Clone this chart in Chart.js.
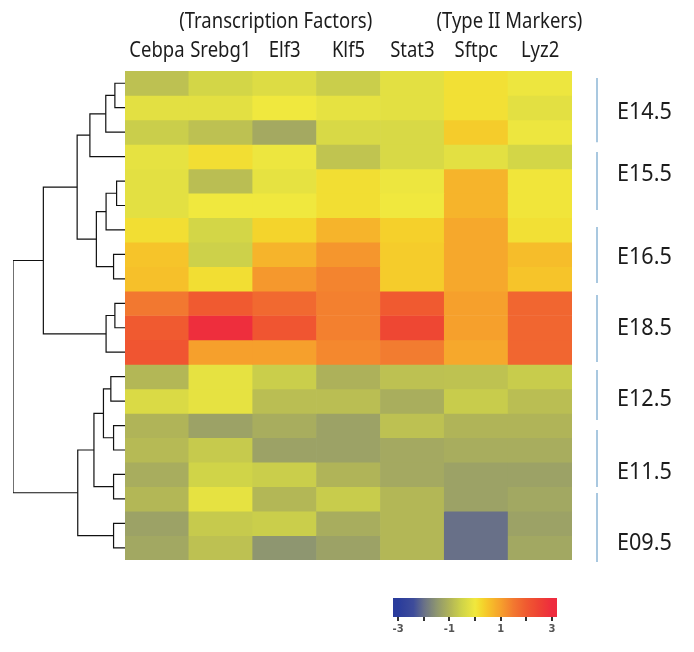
<!DOCTYPE html>
<html>
<head>
<meta charset="utf-8">
<title>Heatmap</title>
<script src="https://cdn.jsdelivr.net/npm/chart.js@4.4.1/dist/chart.umd.min.js"></script>
<style>
    html, body { margin: 0; padding: 0; background: #fff; }
    #wrap { position: relative; width: 694px; height: 652px; }
    #wrap canvas { position: absolute; left: 0; top: 0; }
</style>
</head>
<body>
<div id="wrap">
    <canvas id="treeChart" width="694" height="652"></canvas>
    <canvas id="heatChart" width="694" height="652"></canvas>
    <canvas id="keyChart" width="694" height="652"></canvas>
</div>
<script>
// columns
const genes = ["Cebpa", "Srebg1", "Elf3", "Klf5", "Stat3", "Sftpc", "Lyz2"];
const geneGroups = ["(Transcription Factors)", "(Type II Markers)"];
const geneGroupCentres = [1.86, 5.52]; // in column units

// z-scores per gene, rows top to bottom (20 samples, clustered order)
const cebpa  = [-0.8, -0.2, -0.6, -0.15, -0.2, -0.2, 0.15, 0.5, 0.55, 1.5, 2.0, 2.1, -0.95, -0.35, -1.0, -0.9, -1.12, -0.95, -1.3, -1.2];
const srebg1 = [-0.45, -0.2, -0.8, 0.15, -0.85, 0.0, -0.45, -0.55, 0.15, 2.0, 2.95, 1.0, -0.15, -0.15, -1.3, -0.65, -0.5, -0.15, -0.65, -0.8];
const elf3   = [-0.3, 0.0, -1.18, -0.05, -0.15, 0.0, 0.3, 0.72, 1.1, 1.75, 2.1, 1.0, -0.6, -0.85, -1.12, -1.3, -0.6, -0.95, -0.6, -1.5];
const klf5   = [-0.6, -0.15, -0.38, -0.75, 0.15, 0.15, 0.72, 1.12, 1.35, 1.4, 1.4, 1.3, -1.05, -0.85, -1.3, -1.3, -1.0, -0.62, -1.12, -1.3];
const stat3  = [-0.2, -0.2, -0.38, -0.38, -0.05, 0.0, 0.35, 0.4, 0.4, 2.0, 2.4, 1.45, -0.8, -1.1, -0.8, -1.18, -1.18, -0.95, -0.95, -0.95];
const sftpc  = [0.12, 0.12, 0.4, -0.2, 0.72, 0.72, 0.89, 0.89, 0.89, 1.0, 1.0, 0.89, -0.78, -0.62, -1.0, -1.12, -1.3, -1.3, -2.0, -2.0];
const lyz2   = [-0.05, -0.2, -0.05, -0.45, 0.05, 0.05, 0.12, 0.6, 0.5, 1.8, 1.8, 1.8, -0.62, -0.85, -1.0, -1.12, -1.3, -1.2, -1.3, -1.2];
const geneValues = [cebpa, srebg1, elf3, klf5, stat3, sftpc, lyz2];
const rowCount = cebpa.length;

// stage labels on the right (row units)
const stages = ["E14.5", "E15.5", "E16.5", "E18.5", "E12.5", "E11.5", "E09.5"];
const stageLabelRow = [1.6, 4.17, 7.53, 10.47, 13.37, 16.32, 19.26];
const stageFrom = [0.29, 3.31, 6.38, 9.16, 12.23, 14.68, 17.26];
const stageTo = [2.91, 5.68, 8.67, 11.9, 14.27, 17.01, 20.08];

// dendrogram merges: negative = leaf (row), positive = earlier merge
const treeLeft   = [-1, 1, 2, -5, 4, -8, 5, 3, -10, 9, 8, -13, -15, 12, -17, 14, -19, 16, 11];
const treeRight  = [-2, -3, -4, -6, -7, -9, 6, 7, -11, -12, 10, -14, -16, 13, -18, 15, -20, 17, 18];
const treeHeight = [1.0, 1.9, 3.47, 0.83, 1.87, 1.13, 2.83, 4.73, 1.0, 1.87, 8.07, 1.4, 1.13, 2.13, 1.13, 3.07, 1.13, 4.67, 11.07];

// colour key
const colorTicks = [-3, -2, -1, 0, 1, 2, 3];
const colorLabels = ["-3", "", "-1", "", "1", "", "3"];
const colorStops = [-3, -2.4, -2, -1.5, -1, -0.5, 0, 0.25, 0.5, 1, 1.5, 2, 2.5, 3];
const colorRGB = [
    [42, 60, 156], [62, 76, 154], [104, 112, 136], [142, 150, 112], [176, 180, 88], [208, 212, 72],
    [240, 232, 62], [244, 216, 44], [246, 196, 42], [246, 160, 44], [242, 120, 48],
    [240, 90, 48], [238, 66, 52], [238, 44, 62]
];

function colorFor(v) {
    if (v <= colorStops[0]) return `rgb(${colorRGB[0].join(",")})`;
    for (let i = 1; i < colorStops.length; i++) {
        if (v <= colorStops[i]) {
            const t = (v - colorStops[i - 1]) / (colorStops[i] - colorStops[i - 1]);
            const a = colorRGB[i - 1], b = colorRGB[i];
            const c = a.map((n, k) => Math.round(n + (b[k] - n) * t));
            return `rgb(${c.join(",")})`;
        }
    }
    return `rgb(${colorRGB[colorRGB.length - 1].join(",")})`;
}

function squeezed(ctx, text, x, y, sx) {
    ctx.save();
    ctx.translate(x, y);
    ctx.scale(sx, 1);
    ctx.fillText(text, 0, 0);
    ctx.restore();
}

const FONT = '"Noto Sans", "DejaVu Sans", sans-serif';

// ---- heatmap ----
const heatDatasets = [];
for (let r = 0; r < rowCount; r++) {
    heatDatasets.push({
        label: "row " + (r + 1),
        data: genes.map(() => 1),
        backgroundColor: geneValues.map(col => colorFor(col[r])),
        borderWidth: 0,
        categoryPercentage: 1,
        barPercentage: 1
    });
}

const heatLabels = {
    id: "heatLabels",
    afterDraw(chart) {
        const ctx = chart.ctx;
        const x = chart.scales.x;
        const y = chart.scales.y;
        const area = chart.chartArea;
        ctx.save();
        ctx.fillStyle = "#1c1c1c";
        ctx.textAlign = "center";
        ctx.textBaseline = "alphabetic";
        ctx.font = "21px " + FONT;
        genes.forEach((g, i) => squeezed(ctx, g, x.getPixelForValue(i), 57, 0.88));
        geneGroups.forEach((g, i) => squeezed(ctx, g, x.getPixelForValue(geneGroupCentres[i]), 28, 0.88));

        ctx.strokeStyle = "#8db6d6";
        ctx.lineWidth = 1.5;
        stages.forEach((s, i) => {
            ctx.beginPath();
            ctx.moveTo(area.right + 25, y.getPixelForValue(stageFrom[i]));
            ctx.lineTo(area.right + 25, y.getPixelForValue(stageTo[i]));
            ctx.stroke();
        });
        ctx.textAlign = "left";
        ctx.font = "24px " + FONT;
        stages.forEach((s, i) => squeezed(ctx, s, area.right + 45, y.getPixelForValue(stageLabelRow[i]) + 8.5, 0.9));
        ctx.restore();
    }
};

new Chart(document.getElementById("heatChart"), {
    type: "bar",
    data: { labels: genes, datasets: heatDatasets },
    options: {
        responsive: false,
        animation: false,
        layout: { padding: { left: 125, right: 122, top: 71, bottom: 92 } },
        plugins: { legend: { display: false }, tooltip: { enabled: false } },
        scales: {
            x: { display: false, stacked: true },
            y: { display: false, stacked: true, min: 0, max: rowCount, reverse: true }
        }
    },
    plugins: [heatLabels]
});

// ---- dendrogram ----
function nodePos(id) {
    if (id < 0) return { x: 0, y: -id - 0.5 };
    const l = nodePos(treeLeft[id - 1]);
    const r = nodePos(treeRight[id - 1]);
    return { x: treeHeight[id - 1], y: (l.y + r.y) / 2 };
}

const treeDatasets = treeHeight.map((h, i) => {
    const l = nodePos(treeLeft[i]);
    const r = nodePos(treeRight[i]);
    return {
        data: [{ x: l.x, y: l.y }, { x: h, y: l.y }, { x: h, y: r.y }, { x: r.x, y: r.y }],
        showLine: true,
        borderColor: "#111",
        borderWidth: 1.2,
        pointRadius: 0,
        tension: 0
    };
});

new Chart(document.getElementById("treeChart"), {
    type: "scatter",
    data: { datasets: treeDatasets },
    options: {
        responsive: false,
        animation: false,
        layout: { padding: { left: 13, right: 569, top: 71, bottom: 92 } },
        plugins: { legend: { display: false }, tooltip: { enabled: false } },
        scales: {
            x: { display: false, min: 0, max: Math.max(...treeHeight), reverse: true },
            y: { display: false, min: 0, max: rowCount, reverse: true }
        }
    }
});

// ---- colour key ----
const keyGradient = {
    id: "keyGradient",
    beforeDraw(chart) {
        const ctx = chart.ctx;
        const x = chart.scales.x;
        const area = chart.chartArea;
        const grad = ctx.createLinearGradient(area.left, 0, area.right, 0);
        const steps = 64;
        for (let k = 0; k <= steps; k++) {
            const v = x.min + (x.max - x.min) * k / steps;
            grad.addColorStop(k / steps, colorFor(v));
        }
        ctx.save();
        ctx.fillStyle = grad;
        ctx.fillRect(area.left, area.top, area.right - area.left, area.bottom - area.top);
        ctx.restore();
    }
};

new Chart(document.getElementById("keyChart"), {
    type: "scatter",
    data: { datasets: [] },
    options: {
        responsive: false,
        animation: false,
        layout: { padding: { left: 393, right: 137, top: 598, bottom: 15 } },
        plugins: { legend: { display: false }, tooltip: { enabled: false } },
        scales: {
            x: {
                min: -3.2,
                max: 3.2,
                afterBuildTicks: scale => { scale.ticks = colorTicks.map(v => ({ value: v })); },
                afterFit: scale => { scale.height = 20; },
                border: { display: false },
                grid: { drawOnChartArea: false, tickLength: 4, lineWidth: 2, color: "#333" },
                ticks: {
                    padding: 2,
                    color: "#555",
                    font: { size: 10, family: "DejaVu Sans", weight: "bold" },
                    maxRotation: 0,
                    callback: v => colorLabels[colorTicks.indexOf(v)]
                }
            },
            y: { display: false, min: 0, max: 1 }
        }
    },
    plugins: [keyGradient]
});
</script>
</body>
</html>
